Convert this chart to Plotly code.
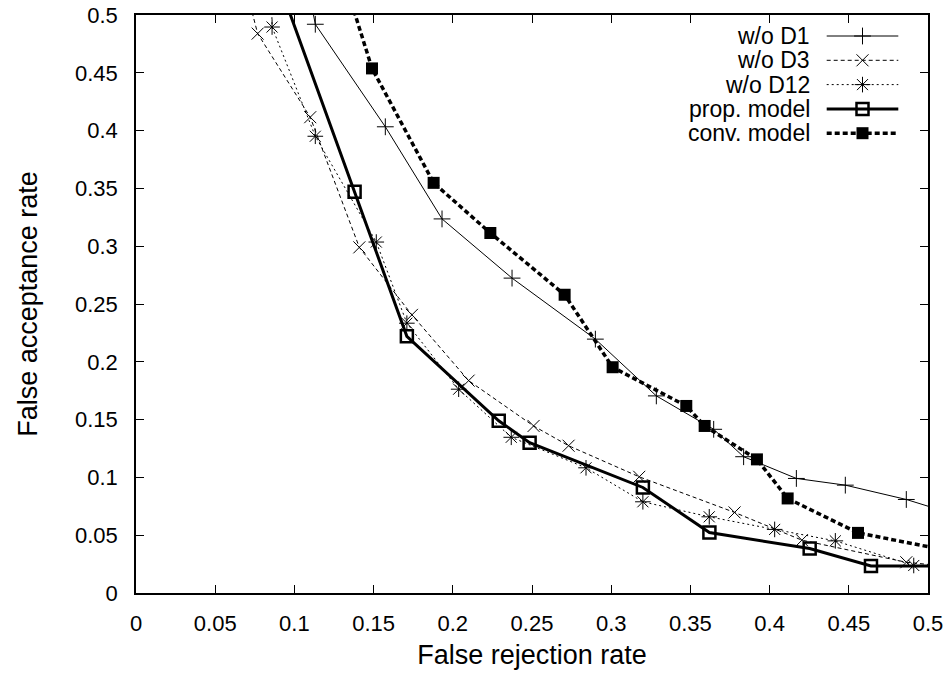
import plotly.graph_objects as go

# ---------------- data ----------------
d1_x = [0.105, 0.1132, 0.1574, 0.1932, 0.2374, 0.2900, 0.3285, 0.3647, 0.3836, 0.4169, 0.4478, 0.4863, 0.52]
d1_y = [0.55, 0.492, 0.4033, 0.3236, 0.2724, 0.2196, 0.1705, 0.1416, 0.1179, 0.0991, 0.0933, 0.0809, 0.0666]

d3_x = [0.070, 0.0768, 0.1100, 0.1410, 0.1742, 0.2100, 0.2510, 0.2731, 0.3177, 0.3779, 0.4204, 0.4863, 0.52]
d3_y = [0.52, 0.4839, 0.4116, 0.2990, 0.2406, 0.1837, 0.1445, 0.1274, 0.1005, 0.0697, 0.0457, 0.0266, 0.0220]

d12_x = [0.0852, 0.0859, 0.1132, 0.1517, 0.1710, 0.2037, 0.2369, 0.2841, 0.3200, 0.3619, 0.4032, 0.4415, 0.4910, 0.52]
d12_y = [0.55, 0.4896, 0.3951, 0.3036, 0.2334, 0.1763, 0.1347, 0.1083, 0.0789, 0.0659, 0.0550, 0.0451, 0.0238, 0.0238]

prop_x = [0.0843, 0.1380, 0.1710, 0.2290, 0.2485, 0.3200, 0.3620, 0.4253, 0.4640, 0.53]
prop_y = [0.55, 0.3470, 0.2220, 0.1490, 0.1300, 0.0913, 0.0523, 0.0385, 0.0234, 0.0234]

conv_x = [0.1270, 0.1490, 0.1879, 0.2237, 0.2706, 0.3009, 0.3474, 0.3590, 0.3920, 0.4114, 0.4558, 0.53]
conv_y = [0.55, 0.4538, 0.3548, 0.3114, 0.2580, 0.1953, 0.1618, 0.1445, 0.1156, 0.0818, 0.0520, 0.0320]

series_names = ["w/o D1", "w/o D3", "w/o D12", "prop. model", "conv. model"]
x_ticks = [0, 0.05, 0.1, 0.15, 0.2, 0.25, 0.3, 0.35, 0.4, 0.45, 0.5]
y_ticks = [0, 0.05, 0.1, 0.15, 0.2, 0.25, 0.3, 0.35, 0.4, 0.45, 0.5]

# ---------------- styles ----------------
FONT = "Liberation Sans, Arial, Helvetica, sans-serif"
styles = [
    dict(line=dict(color="black", width=1),
         marker=dict(symbol="cross-thin-open", size=12, color="black", line=dict(color="black", width=1))),
    dict(line=dict(color="black", width=1, dash="4px,3px"),
         marker=dict(symbol="x-thin-open", size=12, color="black", line=dict(color="black", width=1))),
    dict(line=dict(color="black", width=1, dash="2px,3px"),
         marker=dict(symbol="asterisk-open", size=13, color="black", line=dict(color="black", width=1))),
    dict(line=dict(color="black", width=3),
         marker=dict(symbol="square-open", size=12, color="black", line=dict(color="black", width=2.5))),
    dict(line=dict(color="black", width=3.5, dash="5px,3px"),
         marker=dict(symbol="square", size=12, color="black", line=dict(color="black", width=0))),
]
data = [(d1_x, d1_y), (d3_x, d3_y), (d12_x, d12_y), (prop_x, prop_y), (conv_x, conv_y)]

fig = go.Figure()
for (xs, ys), name, st in zip(data, series_names, styles):
    fig.add_trace(go.Scatter(x=xs, y=ys, mode="lines+markers", name=name,
                             line=st["line"], marker=st["marker"], showlegend=False))

# ---------------- manual legend (text left, sample right, gnuplot style) ----------------
W, H = 951, 673
L, R, T, B = 136, 23, 15, 80
leg_text_right = 811.7
leg_sample = (826.7, 898.3)
leg_row0, leg_row_step = 36, 24.3
for i, (name, st) in enumerate(zip(series_names, styles)):
    yrow = leg_row0 + i * leg_row_step
    mid = (leg_sample[0] + leg_sample[1]) / 2
    fig.add_trace(go.Scatter(x=[leg_sample[0], mid, leg_sample[1]], y=[yrow] * 3,
                             mode="lines", line=st["line"], showlegend=False,
                             xaxis="x2", yaxis="y2", hoverinfo="skip"))
    fig.add_trace(go.Scatter(x=[mid], y=[yrow], mode="markers", marker=st["marker"],
                             showlegend=False, xaxis="x2", yaxis="y2", hoverinfo="skip"))
    fig.add_annotation(x=leg_text_right, y=yrow, xref="x2", yref="y2", text=name,
                       showarrow=False, xanchor="right", yanchor="middle",
                       font=dict(family=FONT, size=23, color="black"))

axis_common = dict(showgrid=False, zeroline=False, showline=True, linecolor="black",
                   linewidth=1.5, mirror="allticks", ticks="inside", ticklen=8,
                   tickwidth=1.2, tickcolor="black", automargin=False,
                   tickfont=dict(family=FONT, size=22, color="black"))

fig.update_layout(
    width=W, height=H,
    margin=dict(l=L, r=R, t=T, b=B),
    paper_bgcolor="white", plot_bgcolor="white",
    xaxis=dict(range=[0, 0.5], tickvals=x_ticks, ticktext=[f"{v:g}" for v in x_ticks],
               ticklabelstandoff=10,
               title=dict(text="False rejection rate", font=dict(family=FONT, size=27, color="black"), standoff=10),
               **axis_common),
    yaxis=dict(range=[0, 0.5], tickvals=y_ticks, ticktext=[f"{v:g}" for v in y_ticks],
               ticklabelstandoff=12,
               title=dict(text="False acceptance rate", font=dict(family=FONT, size=27, color="black"), standoff=30),
               **axis_common),
    xaxis2=dict(domain=[0, 1], range=[L, W - R], visible=False, overlaying="x", anchor="y2"),
    yaxis2=dict(domain=[0, 1], range=[H - B, T], visible=False, overlaying="y", anchor="x2"),
    showlegend=False,
)

fig.write_html("out.html", config={"displayModeBar": False},
               post_script="document.body.style.margin='0';document.body.style.overflow='hidden';")
